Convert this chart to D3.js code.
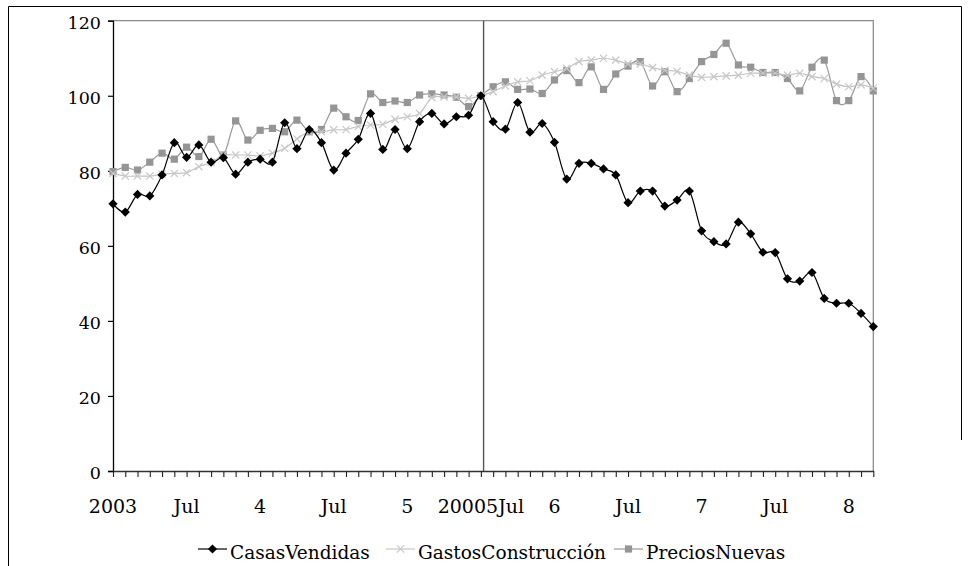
<!DOCTYPE html>
<html>
<head>
<meta charset="utf-8">
<script src="https://cdn.jsdelivr.net/npm/d3@7"></script>
<style>
  html, body { margin: 0; padding: 0; background: #fff; }
  svg { display: block; font-family: "DejaVu Serif", serif; }
</style>
</head>
<body>
<svg id="chart" width="978" height="566"></svg>
<script>
// ---- data ----
const seriesNames = ["CasasVendidas", "GastosConstrucción", "PreciosNuevas"];
const casasVendidas = [71.2, 69.0, 73.7, 73.3, 78.9, 87.5, 83.6, 86.9, 82.3, 83.5,
  79.1, 82.3, 83.1, 82.3, 92.8, 85.9, 91.0, 87.5, 80.2, 84.7,
  88.4, 95.3, 85.7, 91.0, 85.9, 93.1, 95.3, 92.5, 94.4, 94.8,
  100, 93.1, 91.1, 98.2, 90.3, 92.6, 87.6, 77.8, 82.0, 82.0,
  80.5, 78.9, 71.5, 74.6, 74.6, 70.6, 72.2, 74.6, 64.0, 61.1,
  60.5, 66.3, 63.2, 58.3, 58.2, 51.2, 50.6, 52.9, 46.0, 44.7,
  44.7, 42.0, 38.5];
const gastosConstruccion = [79.3, 78.6, 78.6, 78.6, 79.1, 79.3, 79.5, 81.1, 82.3, 84.2,
  84.2, 84.2, 84.0, 84.7, 86.0, 88.5, 90.4, 90.4, 90.9, 91.0,
  91.8, 92.2, 92.4, 93.7, 94.4, 95.3, 99.5, 99.7, 99.7, 99.3,
  100, 101.1, 102.6, 103.7, 104.0, 105.5, 106.4, 107.3, 109.1, 109.5,
  110.0, 109.5, 108.5, 108.5, 107.5, 106.8, 106.5, 105.5, 104.9, 105.1,
  105.3, 105.5, 106.0, 106.0, 106.0, 105.5, 106.0, 105.1, 104.6, 103.1,
  102.4, 102.9, 102.0];
const preciosNuevas = [79.8, 80.9, 80.2, 82.3, 84.7, 83.1, 86.3, 83.8, 88.4, 84.2,
  93.3, 88.2, 90.8, 91.3, 90.4, 93.5, 90.4, 91.0, 96.7, 94.4,
  93.4, 100.5, 98.2, 98.6, 98.2, 100.2, 100.5, 100.2, 99.6, 97.1,
  100, 102.4, 103.7, 101.7, 101.8, 100.6, 104.2, 106.7, 103.5, 107.7,
  101.7, 105.8, 107.9, 109.1, 102.6, 106.4, 101.1, 104.6, 109.1, 111.0,
  114.0, 108.2, 107.6, 106.2, 106.2, 104.6, 101.3, 107.6, 109.5, 98.7,
  98.7, 105.1, 101.3];
// months Jan 2003 .. Mar 2008
const months = d3.timeMonth.range(new Date(2003, 0, 1), new Date(2008, 3, 1)).map(d3.timeFormat("%Y-%m"));
const xTickLabels = [
  ["2003-01", "2003"], ["2003-07", "Jul"], ["2004-01", "4"], ["2004-07", "Jul"],
  ["2005-01", "5"], ["2005-07", "20005Jul"], ["2006-01", "6"], ["2006-07", "Jul"],
  ["2007-01", "7"], ["2007-07", "Jul"], ["2008-01", "8"]
];
const yTicks = [0, 20, 40, 60, 80, 100, 120];
const markerMonth = "2005-07";

// ---- layout ----
const svg = d3.select("#chart");
const L = 113, R = 873.3, T = 20.7, B = 471;

const x = d3.scalePoint().domain(months).range([L, R]);
const y = d3.scaleLinear().domain([0, 120]).range([B, T]);

// outer frame
svg.append("path")
  .attr("d", "M8.5,566 L8.5,6.5 L961.5,6.5 L961.5,440")
  .attr("fill", "none").attr("stroke", "#000").attr("stroke-width", 1);

// plot-area top/right border
svg.append("path")
  .attr("d", `M${L},${T} L${R},${T} L${R},${B}`)
  .attr("fill", "none").attr("stroke", "#8c8c8c").attr("stroke-width", 1.3);

// vertical marker line near Jul 2005
svg.append("line")
  .attr("x1", x(markerMonth) + x.step() * 0.22).attr("x2", x(markerMonth) + x.step() * 0.22)
  .attr("y1", T).attr("y2", B)
  .attr("stroke", "#555").attr("stroke-width", 1.4);

// y axis
const yAxis = svg.append("g")
  .attr("transform", `translate(${L},0)`)
  .call(d3.axisLeft(y).tickValues(yTicks).tickSize(5).tickPadding(7).tickFormat(d3.format("d")));
yAxis.select(".domain").attr("stroke", "#000").attr("stroke-width", 1.3);
yAxis.selectAll(".tick line").attr("stroke", "#000").attr("stroke-width", 1.2);
yAxis.selectAll(".tick text")
  .attr("font-family", "DejaVu Serif").attr("font-size", 17.5).attr("fill", "#000")
  .attr("dy", "0.42em");

// x axis (ticks at every month, no labels)
const xAxis = svg.append("g")
  .attr("transform", `translate(0,${B})`)
  .call(d3.axisBottom(x).tickValues(months).tickSize(6).tickSizeOuter(0).tickFormat(""));
xAxis.select(".domain").attr("stroke", "#333").attr("stroke-width", 1.6);
xAxis.selectAll(".tick line").attr("stroke", "#222").attr("stroke-width", 1.1);

// x labels
svg.append("g").selectAll("text").data(xTickLabels).join("text")
  .attr("x", d => x(d[0])).attr("y", 513)
  .attr("text-anchor", "middle")
  .attr("font-size", 19).attr("fill", "#000")
  .text(d => d[1]);

// ---- series ----
const line = d3.line().x((d, i) => x(months[i])).y(d => y(d)).curve(d3.curveCardinal.tension(0));

const styles = [
  { data: casasVendidas, color: "#000", marker: "diamond", mcolor: "#000" },
  { data: gastosConstruccion, color: "#c4c4c4", marker: "cross", mcolor: "#c8c8c8" },
  { data: preciosNuevas, color: "#999", marker: "square", mcolor: "#959595" }
];

function drawMarker(g, type, color) {
  if (type === "diamond") {
    g.append("path").attr("d", "M0,-4.6 L4.6,0 L0,4.6 L-4.6,0Z").attr("fill", color);
  } else if (type === "square") {
    g.append("rect").attr("x", -3.6).attr("y", -3.6).attr("width", 7.2).attr("height", 7.2).attr("fill", color);
  } else {
    g.append("path").attr("d", "M-3.6,-3.6 L3.6,3.6 M-3.6,3.6 L3.6,-3.6")
      .attr("stroke", color).attr("stroke-width", 1.2).attr("fill", "none");
  }
}

// draw in reverse order so Casas is on top
[2, 1, 0].forEach(k => {
  const s = styles[k];
  const g = svg.append("g");
  g.append("path").attr("d", line(s.data)).attr("fill", "none")
    .attr("stroke", s.color).attr("stroke-width", k === 0 ? 1.2 : 1.2);
  s.data.forEach((v, i) => {
    const mg = g.append("g").attr("transform", `translate(${x(months[i])},${y(v)})`);
    drawMarker(mg, s.marker, s.mcolor);
  });
});

// ---- legend ----
const legendItems = [
  { name: seriesNames[0], sx: 198, s: styles[0] },
  { name: seriesNames[1], sx: 386, s: styles[1] },
  { name: seriesNames[2], sx: 614, s: styles[2] }
];
const ly = 549;
legendItems.forEach(it => {
  const g = svg.append("g");
  g.append("line").attr("x1", it.sx).attr("x2", it.sx + 29).attr("y1", ly).attr("y2", ly)
    .attr("stroke", it.s.color).attr("stroke-width", 1.2);
  const mg = g.append("g").attr("transform", `translate(${it.sx + 14.5},${ly})`);
  drawMarker(mg, it.s.marker, it.s.mcolor);
  g.append("text").attr("x", it.sx + 32).attr("y", 559)
    .attr("font-size", 18.5).attr("fill", "#000").text(it.name);
});
</script>
</body>
</html>
